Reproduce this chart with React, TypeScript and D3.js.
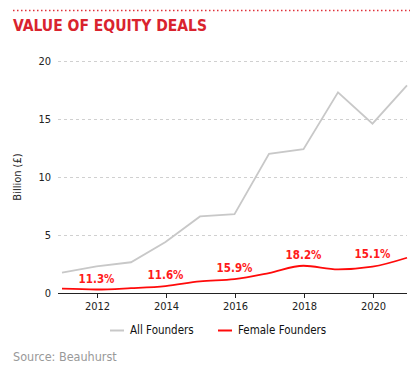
import { useEffect, useRef } from 'react';
import * as d3 from 'd3';

const years = [2011, 2012, 2013, 2014, 2015, 2016, 2017, 2018, 2019, 2020, 2021];
const allFounders = [1.75, 2.3, 2.65, 4.4, 6.6, 6.8, 12.0, 12.4, 17.3, 14.6, 17.9];
const femaleFounders = [0.37, 0.3, 0.42, 0.6, 1.0, 1.2, 1.72, 2.35, 2.04, 2.27, 3.04];
const shareYears = [2012, 2014, 2016, 2018, 2020];
const shareLabels = ['11.3%', '11.6%', '15.9%', '18.2%', '15.1%'];
const yTicks = [0, 5, 10, 15, 20];
const xTicks = [2012, 2014, 2016, 2018, 2020];

const W = 417;
const H = 371;
const FONT = '"DejaVu Sans Condensed", "Liberation Sans Narrow", Roboto, sans-serif';

export default function App() {
  const svgRef = useRef<SVGSVGElement>(null);

  useEffect(() => {
    if (!svgRef.current) return;
    const svg = d3.select(svgRef.current);
    svg.selectAll('*').remove();

    const x = d3.scaleLinear().domain([2011, 2021]).range([62, 407]);
    const y = d3.scaleLinear().domain([0, 20]).range([293, 61]);

    // dotted rule on top
    svg.append('line')
      .attr('x1', 13).attr('x2', 410).attr('y1', 10.5).attr('y2', 10.5)
      .attr('stroke', '#e0303a').attr('stroke-width', 1.5)
      .attr('stroke-dasharray', '1.5,2.5');

    svg.append('text')
      .attr('x', 13).attr('y', 31)
      .style('font-family', FONT)
      .style('font-weight', 'bold')
      .style('font-size', '15.5px')
      .style('fill', '#d9232e')
      .text('VALUE OF EQUITY DEALS');

    // gridlines
    svg.append('g').selectAll('line')
      .data(yTicks.filter(d => d > 0))
      .enter().append('line')
      .attr('x1', 58).attr('x2', 407)
      .attr('y1', d => Math.round(y(d)) + 0.5).attr('y2', d => Math.round(y(d)) + 0.5)
      .attr('stroke', '#d0d0d0')
      .attr('stroke-dasharray', '3,3');

    // y labels
    svg.append('g').selectAll('text')
      .data(yTicks)
      .enter().append('text')
      .attr('x', 51).attr('y', d => y(d) + 4)
      .attr('text-anchor', 'end')
      .style('font-family', FONT)
      .style('font-size', '11px')
      .style('fill', '#222')
      .text(d => d);

    svg.append('text')
      .attr('transform', `translate(21,${(y(0) + y(20)) / 2}) rotate(-90)`)
      .attr('text-anchor', 'middle')
      .style('font-family', FONT)
      .style('font-size', '11px')
      .style('fill', '#222')
      .text('Billion (£)');

    // x axis
    svg.append('line')
      .attr('x1', 58).attr('x2', 407).attr('y1', 293.5).attr('y2', 293.5)
      .attr('stroke', '#222').attr('stroke-width', 1);
    const xt = svg.append('g').selectAll('g')
      .data(xTicks)
      .enter().append('g')
      .attr('transform', d => `translate(${Math.round(x(d)) + 0.5},293)`);
    xt.append('line').attr('y1', 0).attr('y2', 5).attr('stroke', '#222');
    xt.append('text')
      .attr('y', 17)
      .attr('text-anchor', 'middle')
      .style('font-family', FONT)
      .style('font-size', '11px')
      .style('fill', '#222')
      .text(d => d);

    const line = d3.line<number>()
      .x((_, i) => x(years[i]))
      .y(d => y(d));

    svg.append('path')
      .attr('d', line(allFounders))
      .attr('fill', 'none')
      .attr('stroke', '#c8c8c8')
      .attr('stroke-width', 1.8);

    svg.append('path')
      .attr('d', line.curve(d3.curveMonotoneX)(femaleFounders))
      .attr('fill', 'none')
      .attr('stroke', '#ff0a0a')
      .attr('stroke-width', 1.8);

    svg.append('g').selectAll('text')
      .data(shareYears)
      .enter().append('text')
      .attr('x', d => x(d))
      .attr('y', (d, i) => y(femaleFounders[years.indexOf(d)]) - (i === 4 ? 9 : 7))
      .attr('text-anchor', 'middle')
      .style('font-family', FONT)
      .style('font-size', '11.5px')
      .style('font-weight', 'bold')
      .style('fill', '#ff1a1a')
      .text((_, i) => shareLabels[i]);

    // legend
    const legend = [
      { name: 'All Founders', color: '#c8c8c8', x: 110 },
      { name: 'Female Founders', color: '#ff0a0a', x: 218 },
    ];
    const lg = svg.append('g').selectAll('g')
      .data(legend)
      .enter().append('g')
      .attr('transform', d => `translate(${d.x},330)`);
    lg.append('line')
      .attr('x1', 0).attr('x2', 14).attr('y1', 0.5).attr('y2', 0.5)
      .attr('stroke', d => d.color).attr('stroke-width', 2);
    lg.append('text')
      .attr('x', 20).attr('y', 4)
      .style('font-family', FONT)
      .style('font-size', '11.5px')
      .style('fill', '#111')
      .text(d => d.name);

    svg.append('text')
      .attr('x', 13).attr('y', 361)
      .style('font-family', FONT)
      .style('font-size', '12.5px')
      .style('fill', '#999')
      .text('Source: Beauhurst');
  }, []);

  return (
    <svg
      ref={svgRef}
      width={W}
      height={H}
      style={{ position: 'absolute', left: 0, top: 0, background: '#fff' }}
    />
  );
}
